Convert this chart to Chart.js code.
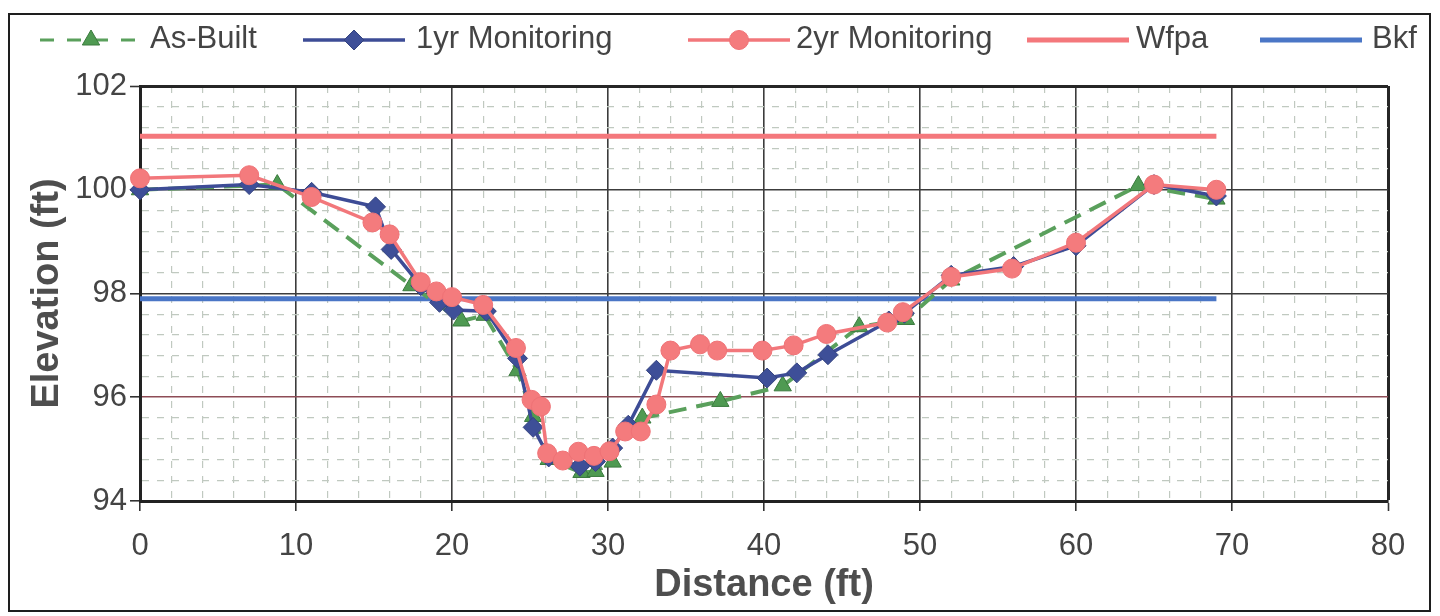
<!DOCTYPE html>
<html>
<head>
<meta charset="utf-8">
<style>
  html, body { margin: 0; padding: 0; background: #fff; }
  #wrap { position: relative; width: 1440px; height: 616px; }
</style>
<script src="https://cdn.jsdelivr.net/npm/chart.js@4.4.0/dist/chart.umd.min.js"></script>
</head>
<body>
<div id="wrap"><canvas id="xsec" width="1440" height="616"></canvas></div>
<script>
// Cross-section survey: as-built vs 1yr / 2yr monitoring, with Wfpa and Bkf levels.
const FONT = "'Liberation Sans', Arial, sans-serif";
const INK = '#444';

const asBuiltDist = [0, 8.8, 17.4, 20.6, 22.1, 24.2, 25.2, 26.2, 28.3, 29.2, 30.3, 31.3, 32.2, 37.2, 41.2, 46.1, 49.1, 52.0, 64.0, 69.0];
const asBuiltElev = [100.0, 100.1, 98.15, 97.47, 97.58, 96.51, 95.63, 94.8, 94.55, 94.57, 94.75, 95.42, 95.6, 95.92, 96.22, 97.36, 97.5, 98.26, 100.08, 99.82];

const yr1Dist = [0, 7.0, 11.0, 15.1, 16.1, 18.0, 19.2, 20.1, 22.2, 24.2, 25.2, 26.2, 28.2, 29.2, 30.3, 31.3, 33.1, 40.2, 42.1, 44.1, 48.0, 49.0, 52.0, 56.0, 60.0, 65.0, 69.0];
const yr1Elev = [100.0, 100.1, 99.95, 99.67, 98.85, 98.15, 97.83, 97.68, 97.66, 96.75, 95.42, 94.85, 94.67, 94.76, 95.02, 95.46, 96.52, 96.37, 96.47, 96.82, 97.47, 97.62, 98.35, 98.52, 98.92, 100.1, 99.88];

const yr2Dist = [0, 7.0, 11.0, 14.9, 16.0, 18.0, 19.0, 20.0, 22.0, 24.1, 25.1, 25.7, 26.1, 27.1, 28.1, 29.1, 30.1, 31.1, 32.1, 33.1, 34.0, 35.9, 37.0, 39.9, 41.9, 44.0, 47.9, 48.9, 52.0, 55.9, 60.0, 65.0, 69.0];
const yr2Elev = [100.22, 100.28, 99.86, 99.37, 99.14, 98.22, 98.04, 97.93, 97.78, 96.95, 95.95, 95.82, 94.92, 94.78, 94.95, 94.87, 94.96, 95.34, 95.34, 95.86, 96.9, 97.02, 96.9, 96.9, 97.0, 97.22, 97.44, 97.64, 98.32, 98.48, 98.98, 100.1, 100.0];

const levelDist = [0, 69];
const wfpaElev = 101.03;
const bkfElev = 97.9;

const distTicks = [0, 10, 20, 30, 40, 50, 60, 70, 80];
const elevTicks = [94, 96, 98, 100, 102];

const pairs = (xs, ys) => xs.map((x, i) => ({ x, y: ys[i] }));
const level = (elev) => levelDist.map((x) => ({ x, y: elev }));

const isDistMajor = (v) => distTicks.includes(Math.round(v * 1000) / 1000);
const isElevMajor = (v) => elevTicks.includes(Math.round(v * 1000) / 1000);

function gridColor(major, edge) {
  return (ctx) => {
    const v = ctx.tick ? ctx.tick.value : 0;
    if (!major(v)) return '#c0c9c0';
    if (Math.abs(v - 96) < 1e-6 && major === isElevMajor) return '#8e4c56';
    return edge(v) ? '#262626' : '#3c3c3c';
  };
}

// Legend drawn by hand: each entry is a line sample with its marker, like the original.
const legendSlots = [
  { x: 40, textX: 150 },
  { x: 303, textX: 416 },
  { x: 688, textX: 796 },
  { x: 1027, textX: 1136 },
  { x: 1260, textX: 1372 },
];
const LEGEND_Y = 40;
const LEGEND_LINE = 102;

const sampleLegend = {
  id: 'sampleLegend',
  afterDraw(chart) {
    const { ctx } = chart;
    ctx.save();
    chart.data.datasets.forEach((ds, i) => {
      const slot = legendSlots[i];
      ctx.strokeStyle = ds.borderColor;
      ctx.lineWidth = ds.legendLineWidth || ds.borderWidth;
      ctx.setLineDash(ds.legendDash || []);
      ctx.beginPath();
      ctx.moveTo(slot.x, LEGEND_Y);
      ctx.lineTo(slot.x + LEGEND_LINE, LEGEND_Y);
      ctx.stroke();
      if (ds.pointRadius > 0) {
        ctx.setLineDash([]);
        ctx.fillStyle = ds.pointBackgroundColor;
        ctx.strokeStyle = ds.pointBorderColor;
        ctx.lineWidth = ds.pointBorderWidth;
        Chart.helpers.drawPoint(ctx, {
          pointStyle: ds.pointStyle, radius: ds.pointRadius, rotation: 0, borderWidth: ds.pointBorderWidth,
        }, slot.x + LEGEND_LINE / 2, LEGEND_Y);
      }
      ctx.fillStyle = INK;
      ctx.font = `31px ${FONT}`;
      ctx.textAlign = 'left';
      ctx.textBaseline = 'middle';
      ctx.fillText(ds.label, slot.textX, LEGEND_Y - 1);
    });
    // outer frame of the figure
    ctx.setLineDash([]);
    ctx.strokeStyle = '#1e1e1e';
    ctx.lineWidth = 2;
    ctx.strokeRect(9, 14, 1421, 597);
    ctx.restore();
  },
};

new Chart(document.getElementById('xsec'), {
  type: 'line',
  data: {
    datasets: [
      {
        label: 'As-Built',
        data: pairs(asBuiltDist, asBuiltElev),
        borderColor: '#5aa05c',
        borderWidth: 4,
        borderDash: [18, 10],
        legendDash: [14, 13],
        legendLineWidth: 3,
        pointStyle: 'triangle',
        pointRadius: 10,
        pointBackgroundColor: '#4f9a52',
        pointBorderColor: '#3a7a3d',
        pointBorderWidth: 1,
        order: 3,
      },
      {
        label: '1yr Monitoring',
        data: pairs(yr1Dist, yr1Elev),
        borderColor: '#3d4c96',
        borderWidth: 3.5,
        pointStyle: 'rectRot',
        pointRadius: 10,
        pointBackgroundColor: '#3e4f98',
        pointBorderColor: '#34437f',
        pointBorderWidth: 1,
        order: 2,
      },
      {
        label: '2yr Monitoring',
        data: pairs(yr2Dist, yr2Elev),
        borderColor: '#f2777b',
        borderWidth: 3.5,
        pointStyle: 'circle',
        pointRadius: 9.5,
        pointBackgroundColor: '#f47b7d',
        pointBorderColor: '#ef7276',
        pointBorderWidth: 1,
        order: 1,
      },
      {
        label: 'Wfpa',
        data: level(wfpaElev),
        borderColor: '#f4787c',
        borderWidth: 5,
        pointRadius: 0,
        order: 4,
      },
      {
        label: 'Bkf',
        data: level(bkfElev),
        borderColor: '#4a76c6',
        borderWidth: 5,
        pointRadius: 0,
        order: 5,
      },
    ],
  },
  options: {
    responsive: false,
    devicePixelRatio: 1,
    animation: false,
    events: [],
    layout: { padding: { left: 10, right: 52, top: 86, bottom: 4 } },
    elements: { line: { tension: 0 } },
    datasets: { line: { clip: false } },
    scales: {
      x: {
        type: 'linear',
        min: 0,
        max: 80,
        afterFit: (scale) => { scale.height = 111; },
        ticks: {
          stepSize: 2,
          autoSkip: false,
          maxRotation: 0,
          padding: 17,
          color: INK,
          font: { family: FONT, size: 31 },
          callback: (v) => (isDistMajor(v) ? String(v) : ''),
        },
        grid: {
          color: gridColor(isDistMajor, (v) => v === 80),
          lineWidth: (ctx) => {
            const v = ctx.tick ? ctx.tick.value : 0;
            if (!isDistMajor(v)) return 1.2;
            return v === 80 ? 3 : 1.6;
          },
          tickLength: 10,
          tickColor: (ctx) => (ctx.tick && isDistMajor(ctx.tick.value) ? '#333' : 'rgba(0,0,0,0)'),
          tickWidth: 1.6,
        },
        border: {
          display: true,
          color: '#222',
          width: 3,
          dash: (ctx) => (ctx.tick && !isDistMajor(ctx.tick.value) ? [7, 8] : []),
        },
        title: {
          display: true,
          text: 'Distance (ft)',
          color: '#4e4e4e',
          font: { family: FONT, size: 38, weight: 'bold' },
          padding: { top: 0, bottom: 4 },
        },
      },
      y: {
        type: 'linear',
        min: 94,
        max: 102,
        afterFit: (scale) => { scale.width = 130; },
        ticks: {
          stepSize: 0.4,
          autoSkip: false,
          padding: 3,
          color: INK,
          font: { family: FONT, size: 31 },
          callback: (v) => (isElevMajor(v) ? String(Math.round(v)) : ''),
        },
        grid: {
          color: gridColor(isElevMajor, (v) => Math.abs(v - 102) < 1e-6),
          lineWidth: (ctx) => {
            const v = ctx.tick ? ctx.tick.value : 0;
            if (!isElevMajor(v)) return 1.2;
            return Math.abs(v - 102) < 1e-6 ? 3 : 1.6;
          },
          tickLength: 10,
          tickColor: (ctx) => (ctx.tick && isElevMajor(ctx.tick.value) ? '#333' : 'rgba(0,0,0,0)'),
          tickWidth: 1.6,
        },
        border: {
          display: true,
          color: '#222',
          width: 3,
          dash: (ctx) => (ctx.tick && !isElevMajor(ctx.tick.value) ? [7, 8] : []),
        },
        title: {
          display: true,
          text: 'Elevation (ft)',
          color: '#4e4e4e',
          font: { family: FONT, size: 38, weight: 'bold' },
          padding: { top: 15, bottom: 0 },
        },
      },
    },
    plugins: {
      legend: { display: false },
      tooltip: { enabled: false },
    },
  },
  plugins: [sampleLegend],
});
</script>
</body>
</html>
